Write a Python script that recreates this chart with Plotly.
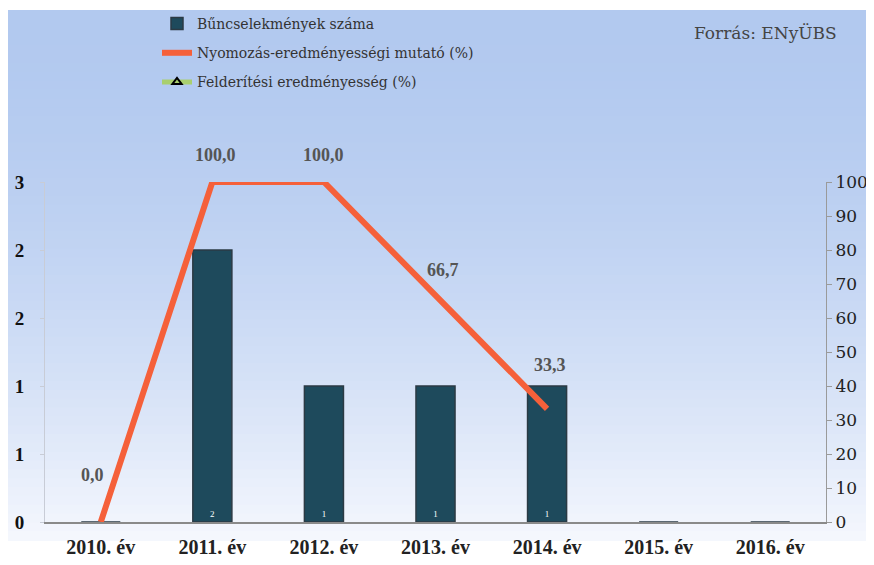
import plotly.graph_objects as go

# Adatok
evek = ["2010. év", "2011. év", "2012. év", "2013. év", "2014. év", "2015. év", "2016. év"]
buncselekmenyek = [0, 2, 1, 1, 1, 0, 0]
nyomozas = [0.0, 100.0, 100.0, 66.7, 33.3, None, None]
nyomozas_cimke = ["0,0", "100,0", "100,0", "66,7", "33,3", "", ""]
felderitesi = [None, None, None, None, None, None, None]

bal_tick_ertek = [0, 0.5, 1, 1.5, 2, 2.5]
bal_tick_szoveg = ["0", "1", "1", "2", "2", "3"]

# címkék eltolása pixelben (stílus)
cimke_dx = [-8, 3, 0, 7, 3, 0, 0]
cimke_dy = [47, 27, 27, 25, 44, 0, 0]

serif = "Liberation Serif"   # félkövér szövegekhez
serif2 = "DejaVu Serif"      # normál szövegekhez

fig = go.Figure()

fig.add_trace(go.Bar(
    x=evek, y=buncselekmenyek, name="Bűncselekmények száma",
    marker=dict(color="#1e4a5c", line=dict(color="#2b3a44", width=1.5)),
    width=0.35,
    text=[str(v) if v else "" for v in buncselekmenyek],
    textposition="inside", insidetextanchor="start",
    textfont=dict(family=serif, size=9, color="white"),
    legendgroup="a",
))

fig.add_trace(go.Scatter(
    x=evek, y=nyomozas, name="Nyomozás-eredményességi mutató (%)",
    mode="lines", yaxis="y2", cliponaxis=False,
    line=dict(color="#f5603a", width=6),
    legendgroup="b",
))

fig.add_trace(go.Scatter(
    x=evek, y=felderitesi, name="Felderítési eredményesség (%)",
    mode="lines+markers", yaxis="y2",
    line=dict(color="#a9cf6e", width=5),
    marker=dict(symbol="triangle-up-open", size=8, color="black", line=dict(width=2)),
    legendgroup="c",
))

annotations = []
for ev, v, c, dx, dy in zip(evek, nyomozas, nyomozas_cimke, cimke_dx, cimke_dy):
    if v is None:
        continue
    annotations.append(dict(x=ev, y=v, xref="x", yref="y2", text=c, showarrow=False,
                            xshift=dx, yshift=dy,
                            font=dict(family=serif, size=18, color="#555555", weight="bold")))

annotations.append(dict(text="Forrás: ENyÜBS", xref="paper", yref="paper",
                        x=(839 - 45) / 781, y=(522 - 33) / 340,
                        xanchor="right", yanchor="middle", showarrow=False,
                        font=dict(family=serif2, size=17, color="#444444")))

# Háttér színátmenet
shapes = []
n = 60
top = (0.70, 0.79, 0.94)
bottom = (0.96, 0.97, 0.995)
for i in range(n):
    t = (i / (n - 1)) ** 1.8
    c = [int(255 * (top[k] + (bottom[k] - top[k]) * t)) for k in range(3)]
    s1 = 10 + i * 530 / n
    s0 = s1 + 530 / n + 1
    shapes.append(dict(type="rect", xref="paper", yref="paper", layer="below",
                       x0=-37 / 781, x1=1 + 48 / 781,
                       y0=1 + (182 - s0) / 340, y1=1 + (182 - s1) / 340,
                       line=dict(width=0), fillcolor="rgb({},{},{})".format(*c)))

fig.update_layout(
    width=866, height=557,
    margin=dict(l=37, r=48, t=174, b=43, autoexpand=False),
    paper_bgcolor="white", plot_bgcolor="rgba(0,0,0,0)",
    shapes=shapes,
    annotations=annotations,
    showlegend=True,
    legend=dict(x=(157 - 45) / 781, y=1 + 174 / 340,
                xanchor="left", yanchor="top", bgcolor="rgba(0,0,0,0)",
                font=dict(family=serif2, size=14, color="#333333"),
                tracegroupgap=8, itemwidth=30),
    bargap=0.65,
    xaxis=dict(showgrid=False, showline=True, linecolor="#8a8a8a", linewidth=1.5,
               tickfont=dict(family=serif, size=20, color="#222222", weight="bold"),
               ticks="", tickangle=0, ticklabelstandoff=6),
    yaxis=dict(range=[0, 2.5], tickvals=bal_tick_ertek, ticktext=bal_tick_szoveg,
               showgrid=False, showline=True, linecolor="#c8ccd6", zeroline=False,
               ticks="outside", ticklen=4, tickcolor="#c8ccd6", ticklabelstandoff=12,
               tickfont=dict(family=serif, size=19, color="#111111", weight="bold")),
    yaxis2=dict(range=[0, 100], dtick=10, overlaying="y", side="right",
                showgrid=False, showline=True, linecolor="#9a9a9a", zeroline=False,
                ticks="outside", ticklen=5, tickcolor="#9a9a9a",
                tickfont=dict(family=serif2, size=17, color="#222222")),
)

fig.write_html("out.html")
